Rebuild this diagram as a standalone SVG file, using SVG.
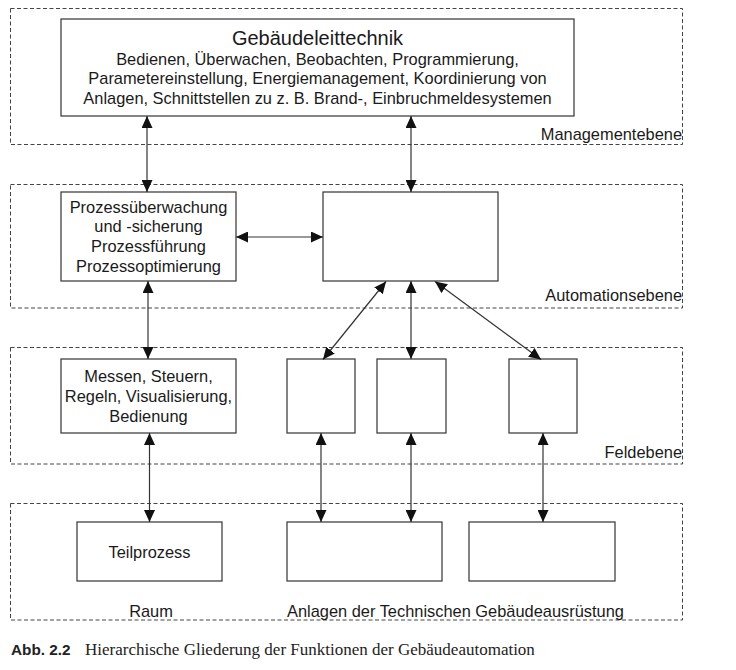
<svg xmlns="http://www.w3.org/2000/svg" width="736" height="670" viewBox="0 0 736 670">
<style>
  .lvl { fill: none; stroke: #444; stroke-width: 1; stroke-dasharray: 4 2.5; }
  .box { fill: #fff; stroke: #333; stroke-width: 1.2; }
  .t { font-family: "Liberation Sans", Arial, sans-serif; font-size: 16.4px; fill: #1a1a1a; }
  .c { text-anchor: middle; }
  .r { text-anchor: end; }
  .title { font-size: 20px; }
  .con line { stroke: #333; stroke-width: 1.2; marker-start: url(#ah); marker-end: url(#ah); }
  .cap { font-family: "Liberation Serif", "Times New Roman", serif; font-size: 17px; fill: #222; }
  .capb { font-family: "Liberation Sans", Arial, sans-serif; font-weight: bold; font-size: 15.3px; fill: #222; }
</style>
<defs>
  <marker id="ah" markerUnits="userSpaceOnUse" markerWidth="12" markerHeight="11" refX="12" refY="5.5" orient="auto-start-reverse" viewBox="0 0 12 11">
    <path d="M0,0 L12,5.5 L0,11 z" fill="#111"/>
  </marker>
</defs>
<rect width="736" height="670" fill="#fff"/>

<g id="managementebene">
  <rect class="lvl" x="10.5" y="8.5" width="672" height="136"/>
  <text class="t r" x="682" y="140">Managementebene</text>
</g>
<g id="automationsebene">
  <rect class="lvl" x="10.5" y="184.5" width="672" height="123.5"/>
  <text class="t r" x="682" y="301">Automationsebene</text>
</g>
<g id="feldebene">
  <rect class="lvl" x="10.5" y="347.5" width="672" height="116.5"/>
  <text class="t r" x="682" y="458">Feldebene</text>
</g>
<g id="raumebene">
  <rect class="lvl" x="10.5" y="503.5" width="672" height="116.5"/>
  <text class="t c" x="151" y="617">Raum</text>
  <text class="t" x="287" y="617">Anlagen der Technischen Gebäudeausrüstung</text>
</g>

<g id="gebaeudeleittechnik">
  <rect class="box" x="61" y="19" width="513" height="97"/>
  <text class="t c title" x="317.5" y="45">Gebäudeleittechnik</text>
  <text class="t c" x="317.5" y="64.5">Bedienen, Überwachen, Beobachten, Programmierung,</text>
  <text class="t c" x="317.5" y="84">Parametereinstellung, Energiemanagement, Koordinierung von</text>
  <text class="t c" x="317.5" y="103.5">Anlagen, Schnittstellen zu z. B. Brand-, Einbruchmeldesystemen</text>
</g>
<g id="prozess">
  <rect class="box" x="61" y="192" width="175" height="89"/>
  <text class="t c" x="148.5" y="212.5">Prozessüberwachung</text>
  <text class="t c" x="148.5" y="232">und -sicherung</text>
  <text class="t c" x="148.5" y="252">Prozessführung</text>
  <text class="t c" x="148.5" y="271.5">Prozessoptimierung</text>
</g>
<g id="automation">
  <rect class="box" x="323" y="192" width="175" height="89"/>
</g>
<g id="messen">
  <rect class="box" x="61" y="359" width="175" height="74"/>
  <text class="t c" x="148.5" y="382">Messen, Steuern,</text>
  <text class="t c" x="148.5" y="401.5">Regeln, Visualisierung,</text>
  <text class="t c" x="148.5" y="421.5">Bedienung</text>
</g>
<g id="feld1"><rect class="box" x="287" y="359" width="68" height="74"/></g>
<g id="feld2"><rect class="box" x="377" y="359" width="69" height="74"/></g>
<g id="feld3"><rect class="box" x="509" y="359" width="68" height="74"/></g>
<g id="teilprozess">
  <rect class="box" x="77" y="522" width="145" height="59"/>
  <text class="t c" x="149.5" y="558">Teilprozess</text>
</g>
<g id="anlage1"><rect class="box" x="287" y="522" width="155" height="59"/></g>
<g id="anlage2"><rect class="box" x="469" y="522" width="146" height="59"/></g>

<g id="connectors" class="con">
  <line x1="147" y1="116" x2="147" y2="192"/>
  <line x1="411" y1="116" x2="411" y2="192"/>
  <line x1="236" y1="237" x2="323" y2="237"/>
  <line x1="148" y1="281" x2="148" y2="359"/>
  <line x1="386" y1="281.5" x2="323" y2="359.5"/>
  <line x1="411" y1="281" x2="411" y2="359"/>
  <line x1="435" y1="281.5" x2="541" y2="359.5"/>
  <line x1="149.5" y1="433" x2="149.5" y2="522"/>
  <line x1="321" y1="433" x2="321" y2="522"/>
  <line x1="411" y1="433" x2="411" y2="522"/>
  <line x1="543" y1="433" x2="543" y2="522"/>
</g>

<g id="caption">
  <text class="capb" x="11" y="655">Abb. 2.2</text>
  <text class="cap" x="85" y="655">Hierarchische Gliederung der Funktionen der Gebäudeautomation</text>
</g>
</svg>
